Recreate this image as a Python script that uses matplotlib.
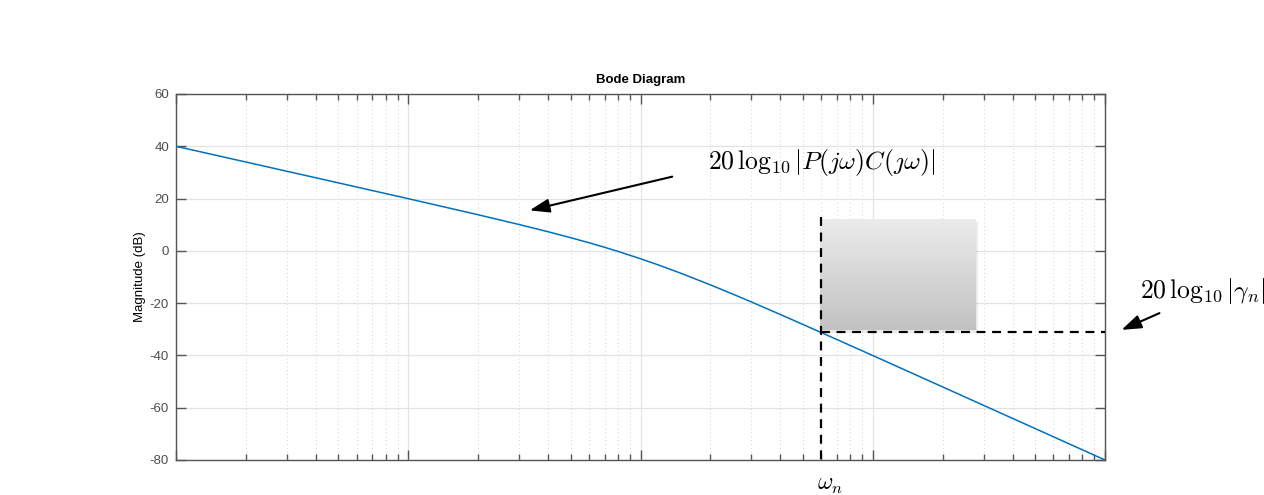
import matplotlib
matplotlib.use("Agg")
import matplotlib.pyplot as plt
import matplotlib.ticker as ticker
import matplotlib.lines as mlines
import matplotlib.patches as mpatches
import numpy as np

plt.rcParams.update({
    "font.family": ["Liberation Sans", "DejaVu Sans"],
    "mathtext.fontset": "cm",
})

# ---------------------------------------------------------------------------
# Data
# ---------------------------------------------------------------------------
omega = [0.01, 0.02, 0.05, 0.1, 0.2, 0.3, 0.4, 0.5, 0.6, 0.7, 0.8, 1.0, 1.2,
         1.5, 2.0, 2.5, 3.0, 4.0, 5.0, 7.0, 10.0, 15.0, 20.0, 30.0, 50.0, 100.0]
mag_db = [40.0, 33.98, 26.01, 19.96, 13.81, 10.08, 7.31, 5.05, 3.10, 1.37,
          -0.21, -3.01, -5.46, -8.64, -13.01, -16.56, -19.54, -24.34, -28.13,
          -33.89, -40.04, -47.06, -52.05, -59.09, -67.96, -80.0]

omega_n = 6.0
gamma_n_db = -31.2
vline_top_db = 13.0

y_ticks = [-80, -60, -40, -20, 0, 20, 40, 60]

LINE_BLUE = "#0072BD"
AX_GRAY = "#555555"
TXT_GRAY = "#4d4d4d"

# ---------------------------------------------------------------------------
# Figure
# ---------------------------------------------------------------------------
fig = plt.figure(figsize=(12.64, 4.95), dpi=100)
ax = fig.add_axes([176 / 1264, 35 / 495, 929 / 1264, 366 / 495])

ax.semilogx(omega, mag_db, color=LINE_BLUE, lw=1.1, zorder=3)

ax.set_xlim(0.01, 100)
ax.set_ylim(-80, 60)
ax.set_yticks(y_ticks)
ax.set_yticklabels([str(v) for v in y_ticks])
ax.xaxis.set_major_locator(ticker.LogLocator(base=10, numticks=10))
ax.xaxis.set_minor_locator(ticker.LogLocator(base=10, subs=np.arange(2, 10),
                                             numticks=20))
ax.xaxis.set_major_formatter(ticker.NullFormatter())
ax.xaxis.set_minor_formatter(ticker.NullFormatter())

ax.grid(which="major", color="#e3e3e3", lw=0.9, ls="-", zorder=0)
ax.grid(which="minor", axis="x", color="#d0d0d0", lw=0.7, ls=(0, (1, 3)),
        zorder=0)

for sp in ax.spines.values():
    sp.set_color(AX_GRAY)
    sp.set_linewidth(1.0)
ax.tick_params(which="both", direction="in", top=True, right=True,
               color=AX_GRAY, labelcolor=TXT_GRAY)
ax.tick_params(which="major", length=7, width=1.0, labelsize=9.5, pad=5)
ax.tick_params(which="minor", length=4, width=1.0)

ax.set_ylabel("Magnitude (dB)", fontsize=9.5, color="black", labelpad=3)
ax.set_title("Bode Diagram", fontsize=9.5, fontweight="bold", pad=8)

# gradient box (with soft shadow), sits above the grid
bx0, by0, bw, bh = 820 / 1264, (495 - 330) / 495, 156 / 1264, 111 / 495
shadow = fig.add_axes([bx0 + 2 / 1264, by0 - 3 / 495, bw, bh])
shadow.set_facecolor("#000000")
shadow.patch.set_alpha(0.08)
shadow.set_xticks([])
shadow.set_yticks([])
for sp in shadow.spines.values():
    sp.set_visible(False)
box = fig.add_axes([bx0, by0, bw, bh])
grad = np.linspace(0.92, 0.76, 100).reshape(-1, 1)
box.imshow(grad, cmap="gray", vmin=0, vmax=1, aspect="auto",
           interpolation="bilinear")
box.axis("off")

# dashed crossing lines, drawn over the box
for xs, ys in (([omega_n, omega_n], [vline_top_db, -80]),
               ([omega_n, 100], [gamma_n_db, gamma_n_db])):
    fig.add_artist(mlines.Line2D(xs, ys, transform=ax.transData,
                                 color="black", lw=1.6, ls=(0, (4, 3)),
                                 zorder=10))

# annotations
ARROW = "-|>,head_length=1.0,head_width=0.35"

fig.text(708 / 1264, 1 - 162 / 495,
         r"$20\,\log_{10}|P(j\omega)C(\jmath\omega)|$",
         fontsize=18.5, ha="left", va="center")
fig.add_artist(mpatches.FancyArrowPatch(
    (675 / 1264, 1 - 176 / 495), (527 / 1264, 1 - 211 / 495),
    transform=fig.transFigure, arrowstyle=ARROW,
    color="black", lw=1.5, mutation_scale=12))

fig.text(1140 / 1264, 1 - 291 / 495, r"$20\,\log_{10}|\gamma_n|$",
         fontsize=18.5, ha="left", va="center")
fig.add_artist(mpatches.FancyArrowPatch(
    (1162 / 1264, 1 - 312 / 495), (1119 / 1264, 1 - 331 / 495),
    transform=fig.transFigure, arrowstyle=ARROW,
    color="black", lw=1.5, mutation_scale=12))

fig.text(830 / 1264, 1 - 485 / 495, r"$\omega_n$", fontsize=17,
         ha="center", va="center")

fig.savefig("out.png", dpi=100)
